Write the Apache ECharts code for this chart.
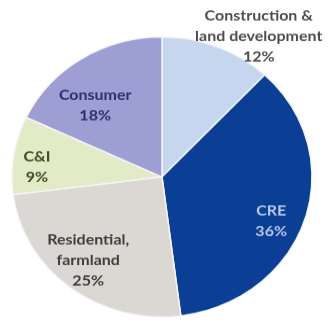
<!DOCTYPE html>
<html>
<head>
<meta charset="utf-8">
<script src="https://cdn.jsdelivr.net/npm/echarts@6/dist/echarts.min.js"></script>
<style>
  html, body { margin: 0; padding: 0; background: #ffffff; overflow: hidden; }
  #wrap { width: 328px; height: 322px; overflow: hidden; }
  /* pie is drawn slightly flattened: render tall, then squash vertically */
  #chart { width: 328px; height: 345px; transform: scaleY(0.9333); transform-origin: 0 0; }
</style>
</head>
<body>
<div id="wrap"><div id="chart"></div></div>
<script>
// Loan portfolio mix, clockwise from 12 o'clock
const categories = ['Construction &\nland development', 'CRE', 'Residential,\nfarmland', 'C&I', 'Consumer'];
const shares = [12, 36, 25, 9, 18];

const sliceColors = ['#c7d6ef', '#0a3f95', '#dbd7d2', '#e3eac6', '#9c9ed4'];
const labelColors = ['#4d4d4d', '#b9c9ea', '#3e3e3e', '#3f4a22', '#2c306c'];
// nudges from the default inside label spot, and text alignment per label
const labelOffsets = [[68, -78], [35, 23], [-26, 28], [-48, 1], [-25, -11]];
const labelAligns = ['center', 'center', 'center', 'left', 'center'];

const chart = echarts.init(document.getElementById('chart'), null, { renderer: 'canvas' });

chart.setOption({
  animation: false,
  backgroundColor: '#ffffff',
  series: [{
    type: 'pie',
    center: [162, 189.6],
    radius: [0, 150],
    startAngle: 90,
    clockwise: true,
    avoidLabelOverlap: false,
    itemStyle: { borderColor: '#f4f6fa', borderWidth: 1.5 },
    label: {
      show: true,
      position: 'inside',
      fontFamily: 'Lato, "Open Sans", sans-serif',
      fontSize: 16,
      fontWeight: 'bold',
      lineHeight: 22,
      formatter: p => p.name + '\n' + p.value + '%'
    },
    labelLine: { show: false },
    emphasis: { disabled: true },
    data: categories.map((name, i) => ({
      name: name,
      value: shares[i],
      itemStyle: { color: sliceColors[i] },
      label: { color: labelColors[i], offset: labelOffsets[i], align: labelAligns[i] }
    }))
  }]
});
</script>
</body>
</html>
